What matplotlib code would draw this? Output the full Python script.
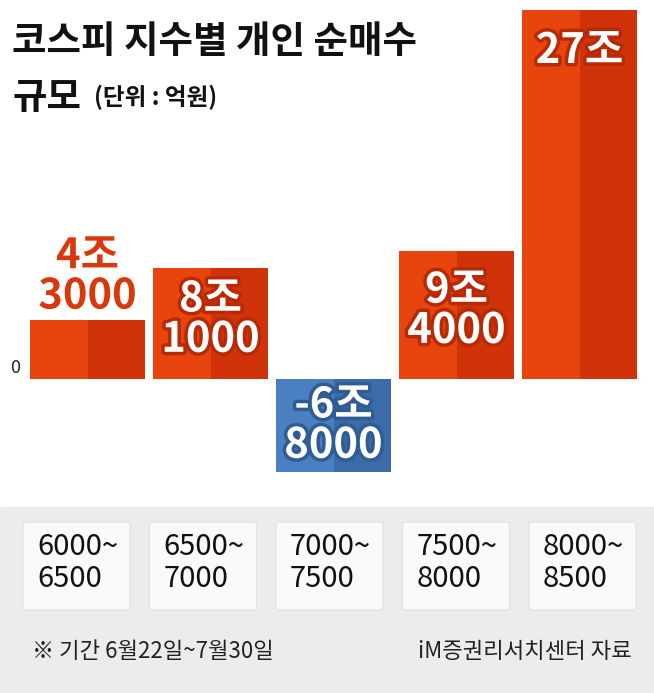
import matplotlib
matplotlib.use("Agg")
import matplotlib.pyplot as plt
import matplotlib.patheffects as pe
from matplotlib.patches import FancyBboxPatch, Rectangle

plt.rcParams['font.family'] = ['Noto Sans CJK KR', 'DejaVu Sans']

categories = ["6000~\n6500", "6500~\n7000", "7000~\n7500", "7500~\n8000", "8000~\n8500"]
values = [43000, 81000, -68000, 94000, 270000]
labels = ["4조\n3000", "8조\n1000", "-6조\n8000", "9조\n4000", "27조"]

W, H = 654, 693
fig = plt.figure(figsize=(W/100, H/100), dpi=100)
fig.patch.set_facecolor('white')

fig.add_artist(Rectangle((0, 0), 1, (H-507)/H, transform=fig.transFigure, color='#ececec', zorder=0))

ax = fig.add_axes([0, (H-472)/H, 1, 462/H])
ax.set_xlim(-87.5/123, (W-87.5)/123)
ax.set_ylim(-68000, 270000)
ax.axis('off')

w = 115/123
for i, v in enumerate(values):
    c1, c2 = ('#e8450e', '#d0330a') if v >= 0 else ('#4a80c2', '#3b6ba8')
    ax.bar(i, v, width=w, color=c1, zorder=2)
    ax.bar(i + w/4, v, width=w/2, color=c2, zorder=2)

fs = 30
for i, (v, lab) in enumerate(zip(values, labels)):
    if i == 0:
        ax.text(i, v + 2000, lab, ha='center', va='bottom', fontsize=fs, fontweight='heavy',
                color='#d8380c', linespacing=0.95,
                path_effects=[pe.withStroke(linewidth=4, foreground='white')], zorder=3)
    elif v < 0:
        ax.text(i, v/2, lab, ha='center', va='center', fontsize=fs, fontweight='heavy',
                color='white', linespacing=0.95,
                path_effects=[pe.withStroke(linewidth=5, foreground='#2f5d93')], zorder=3)
    elif i == 4:
        ax.text(i, v - 30000, lab, ha='center', va='center', fontsize=fs, fontweight='heavy',
                color='white',
                path_effects=[pe.withStroke(linewidth=5, foreground='#b82a05')], zorder=3)
    else:
        ax.text(i, v/2 + 3000, lab, ha='center', va='center', fontsize=fs, fontweight='heavy',
                color='white', linespacing=0.95,
                path_effects=[pe.withStroke(linewidth=5, foreground='#b82a05')], zorder=3)

fig.text(10/W, 1 - 368/H, "0", fontsize=13, ha='left', va='center', color='#222222')

fig.text(12/W, 1 - 42/H, "코스피 지수별 개인 순매수", fontsize=27, fontweight='heavy', ha='left', va='center', color='#111111')
fig.text(12/W, 1 - 97/H, "규모", fontsize=27, fontweight='heavy', ha='left', va='center', color='#111111')
fig.text(94/W, 1 - 97/H, "(단위 : 억원)", fontsize=17, fontweight='bold', ha='left', va='center', color='#111111')

for i, cat in enumerate(categories):
    x0 = 23 + i * 126.5
    fig.add_artist(FancyBboxPatch((x0/W, 1 - 610/H), 107/W, 88/H, boxstyle='round,pad=0,rounding_size=0.004',
                                  transform=fig.transFigure, facecolor='#fafafa', edgecolor='#e0e0e0', lw=0.8, zorder=1))
    fig.text((x0 + 14)/W, 1 - 563/H, cat, fontsize=21, ha='left', va='center', color='#111111', linespacing=1.05)

fig.text(32/W, 1 - 651/H, "※ 기간 6월22일~7월30일", fontsize=16, ha='left', va='center', color='#222222')
fig.text(632/W, 1 - 651/H, "iM증권리서치센터 자료", fontsize=16, ha='right', va='center', color='#222222')

fig.savefig("out.png", dpi=100, facecolor='white')
